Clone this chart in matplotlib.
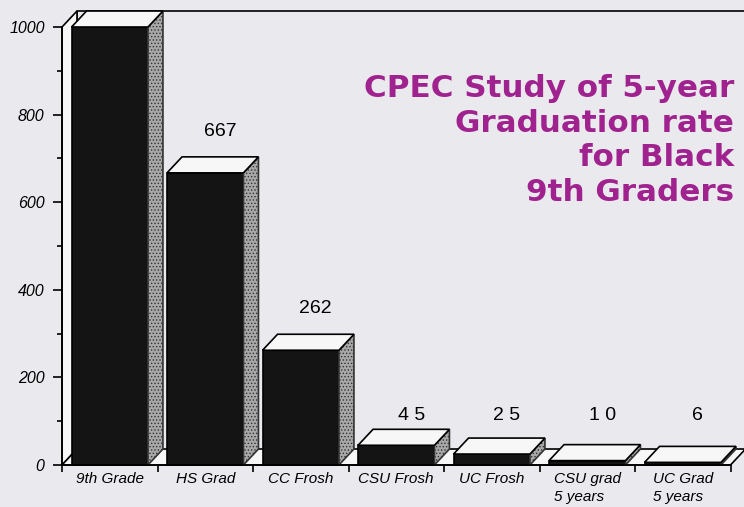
import matplotlib
matplotlib.use('Agg')
import matplotlib.pyplot as plt
from matplotlib.patches import Polygon

# data
categories = ['9th Grade', 'HS Grad', 'CC Frosh', 'CSU Frosh', 'UC Frosh',
              'CSU grad\n5 years', 'UC Grad\n5 years']
values = [1000, 667, 262, 45, 25, 10, 6]
value_labels = ['', '667', '262', '4 5', '2 5', '1 0', '6']
title = 'CPEC Study of 5-year\nGraduation rate\nfor Black\n9th Graders'

bg = '#eaeaee'
sans = ['Liberation Sans', 'DejaVu Sans']

fig = plt.figure(figsize=(7.44, 5.07), dpi=100, facecolor=bg)
ax = fig.add_axes([62 / 744, 42 / 507, 668.5 / 744, 438 / 507])
ax.set_facecolor('none')
ax.set_xlim(-0.5, len(values) - 0.5)
ax.set_ylim(0, 1000)

# 3d depth, in data units (about 15 px across, 16 px up)
ddx = 0.157
ddy = 36.5
n = len(values)
lw = 1.2

# back wall edges
ax.plot([-0.5 + ddx, -0.5 + ddx, n - 0.5 + ddx + 0.2],
        [ddy, 1000 + ddy, 1000 + ddy], color='black', lw=lw, clip_on=False, zorder=1)

# left wall and floor
left = Polygon([(-0.5, 0), (-0.5, 1000), (-0.5 + ddx, 1000 + ddy), (-0.5 + ddx, ddy)],
               closed=True, facecolor='#f7f7f7', edgecolor='black', lw=lw, clip_on=False, zorder=2)
floor = Polygon([(-0.5, 0), (n - 0.5, 0), (n - 0.5 + ddx, ddy), (-0.5 + ddx, ddy)],
                closed=True, facecolor='#f7f7f7', edgecolor='black', lw=lw, clip_on=False, zorder=2)
ax.add_patch(left)
ax.add_patch(floor)

# bars
plt.rcParams['hatch.linewidth'] = 0.6
w = 0.8
bars = ax.bar(range(n), values, width=w, color='#141414', edgecolor='black',
              lw=lw, zorder=3, clip_on=False)
for i, (b, v) in enumerate(zip(bars, values)):
    x0 = b.get_x()
    x1 = x0 + b.get_width()
    top = Polygon([(x0, v), (x1, v), (x1 + ddx, v + ddy), (x0 + ddx, v + ddy)], closed=True,
                  facecolor='#f7f7f7', edgecolor='black', lw=lw, clip_on=False, zorder=4)
    side = Polygon([(x1, 0), (x1 + ddx, ddy), (x1 + ddx, v + ddy), (x1, v)], closed=True,
                   facecolor='#a8a8a8', edgecolor='#333333', hatch='.....', lw=lw,
                   clip_on=False, zorder=4)
    ax.add_patch(side)
    ax.add_patch(top)
    if value_labels[i]:
        ly = v + ddy + 58 if v > 100 else 114
        ax.text(i + ddx, ly, value_labels[i], ha='center', va='center',
                fontsize=14, family=sans, zorder=5)

# axes, ticks
for s in ['top', 'right']:
    ax.spines[s].set_visible(False)
ax.spines['left'].set_linewidth(lw)
ax.spines['bottom'].set_linewidth(lw)
ax.spines['bottom'].set_zorder(5)

ax.set_yticks(range(0, 1001, 200))
ax.set_yticks(range(100, 1000, 200), minor=True)
ax.set_yticklabels([str(t) for t in range(0, 1001, 200)], fontstyle='italic',
                   fontsize=11.5, family=sans)
ax.tick_params(axis='y', which='major', direction='out', length=6.5, width=lw, pad=6)
ax.tick_params(axis='y', which='minor', direction='out', length=3.6, width=lw)

ax.set_xticks(range(n))
ax.set_xticks([i - 0.5 for i in range(n + 1)], minor=True)
ax.set_xticklabels(categories, fontstyle='italic', fontsize=11, family=sans,
                   linespacing=1.35)
for t in ax.get_xticklabels():
    t.set_multialignment('left')
ax.tick_params(axis='x', which='major', length=0, pad=5)
ax.tick_params(axis='x', which='minor', direction='out', length=5, width=lw)

fig.text(734 / 744, 1 - 74 / 507, title, ha='right', va='top', color='#a0228f',
         fontsize=22.3, fontweight='bold', family=['DejaVu Sans'],
         linespacing=1.25)

fig.savefig('out.png', dpi=100, facecolor=bg)
